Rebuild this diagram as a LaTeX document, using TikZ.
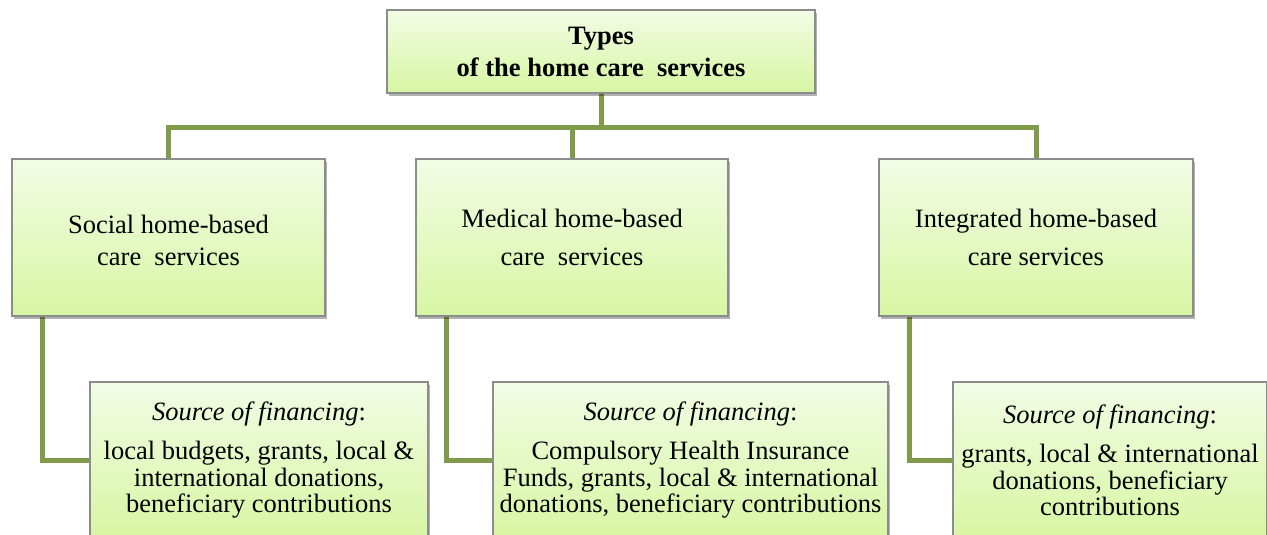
\documentclass[tikz,border=0pt]{standalone}
\usepackage{fontspec}
\setmainfont{Liberation Serif}
\usetikzlibrary{shadows,backgrounds}
\definecolor{boxtop}{RGB}{242,252,229}
\definecolor{boxbot}{RGB}{215,246,163}
\definecolor{boxline}{RGB}{140,140,140}
\definecolor{linkgreen}{RGB}{128,155,74}
\tikzset{
  card/.style={draw=boxline, line width=1.2pt, top color=boxtop, bottom color=boxbot,
    align=center, inner sep=0pt, minimum height=157pt,
    drop shadow={shadow xshift=1.5pt, shadow yshift=-3pt, opacity=0.3, fill=black}},
  link/.style={draw=linkgreen, line width=5pt},
  txt/.style={font=\fontsize{26.5}{#1}\selectfont}
}
\begin{document}
\begin{tikzpicture}[x=1pt,y=-1pt]

\useasboundingbox (0,0) rectangle (1267,535);
\clip (0,0) rectangle (1267,535);

\node[card, minimum width=428pt, minimum height=83pt, font={\fontsize{26.5}{32}\selectfont\bfseries}] (types) at (601,51.5) {Types\\of the home care\ \ services};

\node[card, minimum width=313pt, txt=32] (social) at (168.5,237.5) {\rule{0pt}{25pt}Social home-based\\care\ \ services};
\node[card, minimum width=312pt, txt=38] (medical) at (572,237.5) {Medical home-based\\care\ \ services};
\node[card, minimum width=314pt, txt=38] (integ) at (1036,237.5) {Integrated home-based\\care services};

\node[card, minimum width=338pt, txt=26.5] (srcsocial) at (259,460.5) {\textit{Source of financing}:\\[12.5pt]local budgets, grants, local \&\\international donations,\\beneficiary contributions};
\node[card, minimum width=395pt, txt=26.5] (srcmedical) at (690.5,460.5) {\textit{Source of financing}:\\[12.5pt]Compulsory Health Insurance\\Funds, grants, local \& international\\donations, beneficiary contributions};
\node[card, minimum width=314pt, txt=26.5] (srcinteg) at (1110,460.5) {\textit{Source of financing}:\\[12.5pt]grants, local \& international\\donations, beneficiary\\contributions};

\begin{scope}[on background layer]
\coordinate (hub) at (601,127);
\draw[link] (types.south) -- (hub);
\draw[link] (social.north) |- (hub) -| (integ.north);
\draw[link] (medical.north) -- (medical.north |- hub);
\foreach \a/\b in {social/srcsocial, medical/srcmedical, integ/srcinteg}
    \draw[link] ([xshift=31pt]\a.south west) |- (\b.west);
\end{scope}

\end{tikzpicture}
\end{document}
